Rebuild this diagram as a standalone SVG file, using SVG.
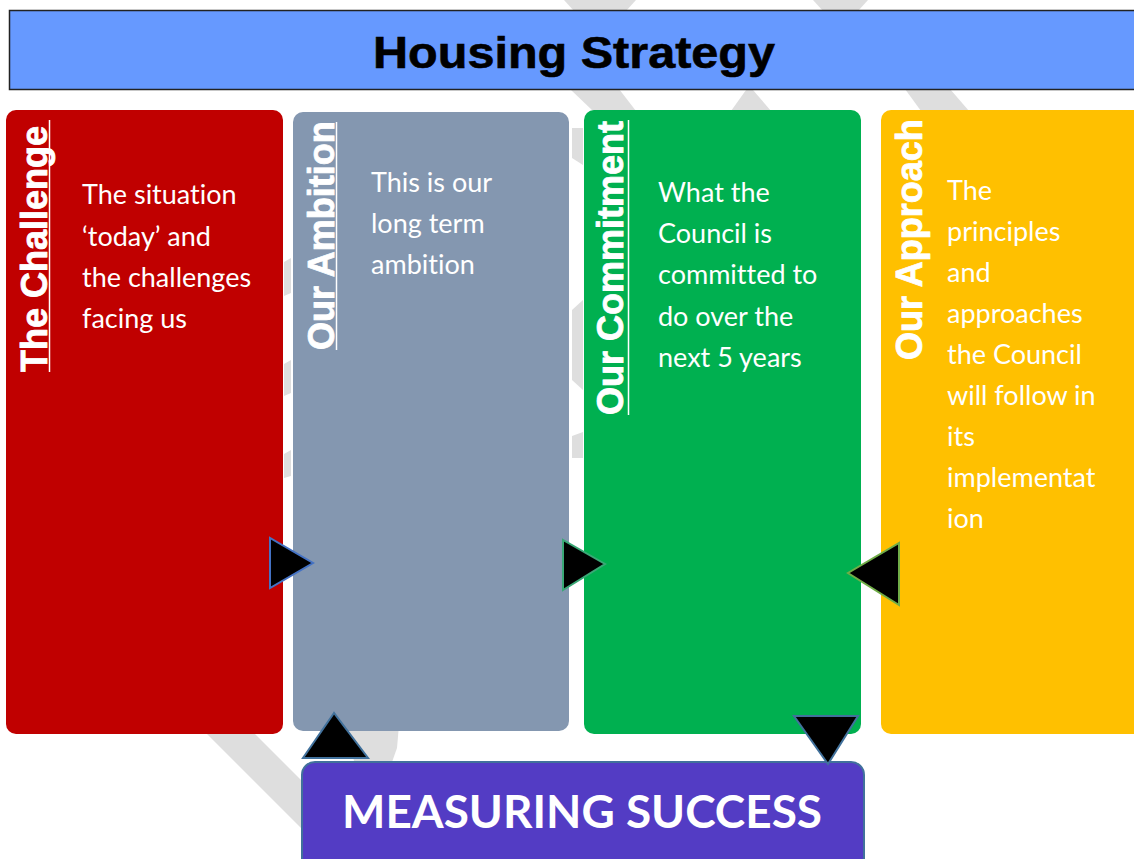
<svg xmlns="http://www.w3.org/2000/svg" width="1134" height="859" viewBox="0 0 1134 859">
<style>
.wm{fill:#dedede}
.lbl{font-family:"Liberation Sans",Arial,sans-serif;font-weight:bold;font-size:36px;fill:#ffffff;stroke:#ffffff;stroke-width:0.8}
.body{font-family:Lato,"Open Sans",sans-serif;font-size:27px;fill:#ffffff;font-variant-ligatures:none;font-feature-settings:"liga" 0}
.ul{stroke:#ffffff;stroke-width:1.5}
</style>
<rect x="0" y="0" width="1134" height="859" fill="#ffffff"/>
<g id="watermark">
<polygon class="wm" points="564,0 636,0 626,11 574,11"/>
<polygon class="wm" points="813,0 868,0 858,11 823,11"/>
<polygon class="wm" points="570,89 619,89 636,111 593,111"/>
<polygon class="wm" points="731,111 746,90 753,90 771,111"/>
<polygon class="wm" points="905,89 950,89 969,111 921,111"/>
<polygon class="wm" points="284,262 291,258 291,293 284,296"/>
<polygon class="wm" points="284,364 291,360 291,393 284,396"/>
<polygon class="wm" points="284,454 291,450 291,476 284,478"/>
<polygon class="wm" points="572,128 583,128 583,165 572,158"/>
<polygon class="wm" points="572,310 583,300 583,390 572,380"/>
<polygon class="wm" points="572,436 583,432 583,458 572,458"/>
<polygon class="wm" points="205,732 253,732 380,859 332,859"/>
<polygon class="wm" points="345,725 399,725 397,748 391,765 355,765"/>
</g>
<g id="title">
<rect x="9.5" y="10.5" width="1130" height="79" fill="#6699ff" stroke="#222222" stroke-width="1.5"/>
<text x="574" y="68" text-anchor="middle" font-family="'Liberation Sans',Arial,sans-serif" font-weight="bold" font-size="44" textLength="402" lengthAdjust="spacingAndGlyphs" fill="#000000" stroke="#000000" stroke-width="0.6">Housing Strategy</text>
</g>
<g id="challenge">
<rect x="6" y="110" width="277" height="624" rx="10" fill="#c00000"/>
<text class="lbl" transform="translate(47,372) rotate(-90)">The Challenge</text>
<line class="ul" x1="49.5" y1="120" x2="49.5" y2="372"/>
<text class="body"><tspan x="82" y="204">The situation</tspan><tspan x="82" y="246">‘today’ and</tspan><tspan x="82" y="287">the challenges</tspan><tspan x="82" y="328">facing us</tspan></text>
</g>
<g id="ambition">
<rect x="293" y="112" width="276" height="619" rx="10" fill="#8497b0"/>
<text class="lbl" transform="translate(334,350) rotate(-90)">Our Ambition</text>
<line class="ul" x1="336.5" y1="122" x2="336.5" y2="350"/>
<text class="body"><tspan x="371" y="192">This is our</tspan><tspan x="371" y="233">long term</tspan><tspan x="371" y="274">ambition</tspan></text>
</g>
<g id="commitment">
<rect x="584" y="110" width="277" height="624" rx="10" fill="#00b050"/>
<text class="lbl" transform="translate(623,415) rotate(-90)">Our Commitment</text>
<line class="ul" x1="628.5" y1="120" x2="628.5" y2="415"/>
<text class="body"><tspan x="658" y="202">What the</tspan><tspan x="658" y="243">Council is</tspan><tspan x="658" y="284">committed to</tspan><tspan x="658" y="326">do over the</tspan><tspan x="658" y="367">next 5 years</tspan></text>
</g>
<g id="approach">
<rect x="881" y="110" width="270" height="624" rx="10" fill="#ffc000"/>
<text class="lbl" transform="translate(922,360) rotate(-90)">Our Approach</text>
<text class="body"><tspan x="947" y="200">The</tspan><tspan x="947" y="241">principles</tspan><tspan x="947" y="282">and</tspan><tspan x="947" y="323">approaches</tspan><tspan x="947" y="364">the Council</tspan><tspan x="947" y="405">will follow in</tspan><tspan x="947" y="446">its</tspan><tspan x="947" y="487">implementat</tspan><tspan x="947" y="528">ion</tspan></text>
</g>
<g id="measuring">
<rect x="302" y="762" width="562" height="120" rx="13" fill="#533cc4" stroke="#41719c" stroke-width="2"/>
<text x="582" y="828" text-anchor="middle" font-family="Lato,'Open Sans',sans-serif" font-weight="bold" font-size="45" textLength="480" lengthAdjust="spacingAndGlyphs" fill="#ffffff">MEASURING SUCCESS</text>
</g>
<g id="connectors">
<polygon points="270,538 270,588 313,563" fill="#000000" stroke="#4472c4" stroke-width="2"/>
<polygon points="563,540 563,590 605,564" fill="#000000" stroke="#3aa876" stroke-width="2"/>
<polygon points="899,543 899,605 848,573" fill="#000000" stroke="#70ad47" stroke-width="2"/>
<polygon points="334,713 303,758 368,758" fill="#000000" stroke="#41719c" stroke-width="2"/>
<polygon points="794,716 858,716 828,764" fill="#000000" stroke="#41719c" stroke-width="2"/>
</g>
</svg>
